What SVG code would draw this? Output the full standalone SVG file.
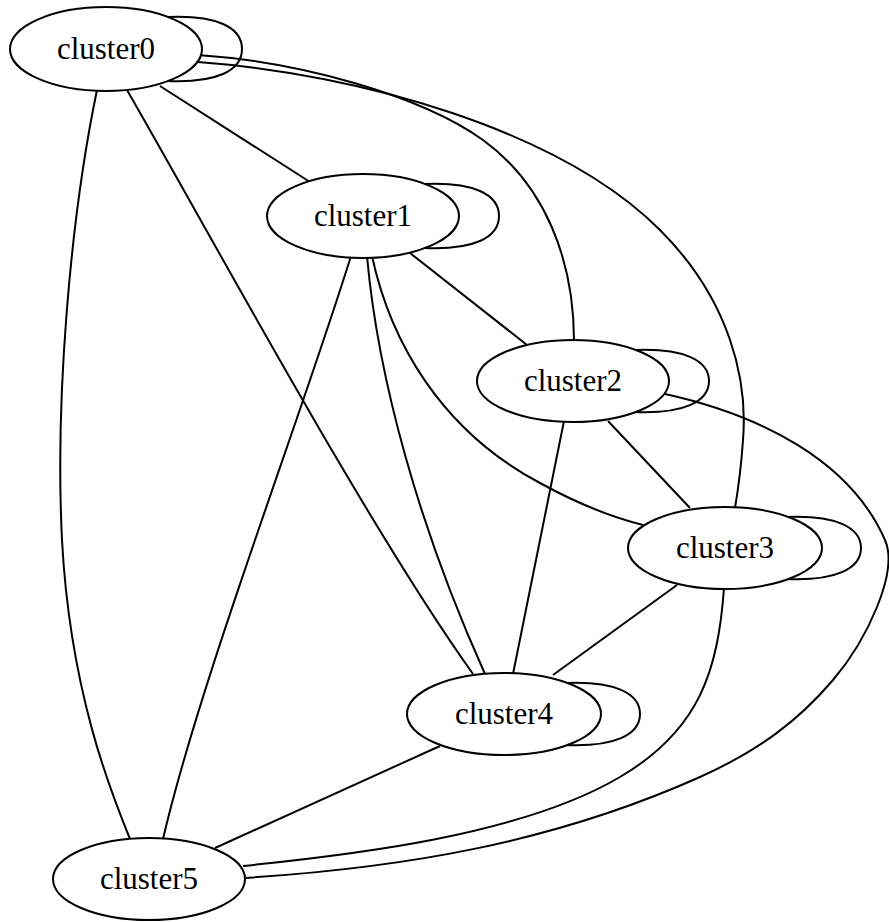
<svg xmlns="http://www.w3.org/2000/svg" width="889" height="922" viewBox="0 0 889 922">
  <style>
    .edge { fill: none; stroke: #000; stroke-width: 2; }
    .node ellipse { fill: #fff; stroke: #000; stroke-width: 2; }
    .node text { font-family: "Liberation Serif", "Times New Roman", "DejaVu Serif", serif; font-size: 31px; fill: #000; text-anchor: middle; }
  </style>
  <rect width="889" height="922" fill="#fff"/>

  <!-- edges are drawn first so the node fills hide their ends -->
  <g id="edges">
    <!-- self loops -->
    <path class="edge" d="M168,17 C216,15 242,27 242,49 C242,71 216,83 168,81"/>
    <path class="edge" d="M425,184 C473,182 499,194 499,216 C499,238 473,250 425,248"/>
    <path class="edge" d="M635,350 C683,348 709,360 709,381 C709,402 683,414 635,412"/>
    <path class="edge" d="M787,517 C835,515 861,527 861,548 C861,569 835,581 787,579"/>
    <path class="edge" d="M566,683 C614,681 640,693 640,714 C640,735 614,747 566,745"/>

    <!-- cluster0 -->
    <path class="edge" d="M160,86 L310,182"/>
    <path class="edge" d="M198,55 C300,62 420,95 483,140 C545,185 574,260 574,341"/>
    <path class="edge" d="M198,62 C360,74 560,130 660,230 C730,300 748,380 743,440 C741,470 738,490 735,508"/>
    <path class="edge" d="M127,90 C214,241 366,524 473,674"/>
    <path class="edge" d="M97,90 C70,220 55,400 62,540 C70,690 110,790 130,839"/>

    <!-- cluster1 -->
    <path class="edge" d="M410,253 L527,345"/>
    <path class="edge" d="M372,256 C390,340 440,430 540,483 C580,505 615,518 643,525"/>
    <path class="edge" d="M367,256 C378,380 420,530 485,674"/>
    <path class="edge" d="M351,256 C300,420 200,680 163,839"/>

    <!-- cluster2 -->
    <path class="edge" d="M608,421 L690,508"/>
    <path class="edge" d="M564,421 L513,674"/>
    <path class="edge" d="M665,394 C760,415 850,460 885,540 C899,572 867,640 833,680 C799,720 760,750 700,777 C550,844 400,868 244,878"/>

    <!-- cluster3 -->
    <path class="edge" d="M677,585 L553,675"/>
    <path class="edge" d="M724,588 C718,670 700,730 620,777 C520,836 350,855 243,866"/>

    <!-- cluster4 -->
    <path class="edge" d="M440,746 L215,848"/>
  </g>

  <g id="cluster0" class="node">
    <ellipse cx="106" cy="49" rx="96" ry="42"/>
    <text x="106" y="59">cluster0</text>
  </g>
  <g id="cluster1" class="node">
    <ellipse cx="363" cy="216" rx="96" ry="42"/>
    <text x="363" y="226">cluster1</text>
  </g>
  <g id="cluster2" class="node">
    <ellipse cx="573" cy="381" rx="96" ry="41"/>
    <text x="573" y="391">cluster2</text>
  </g>
  <g id="cluster3" class="node">
    <ellipse cx="725" cy="548" rx="97" ry="41"/>
    <text x="725" y="558">cluster3</text>
  </g>
  <g id="cluster4" class="node">
    <ellipse cx="504" cy="714" rx="97" ry="41"/>
    <text x="504" y="724">cluster4</text>
  </g>
  <g id="cluster5" class="node">
    <ellipse cx="149" cy="879" rx="96" ry="41"/>
    <text x="149" y="889">cluster5</text>
  </g>
</svg>
